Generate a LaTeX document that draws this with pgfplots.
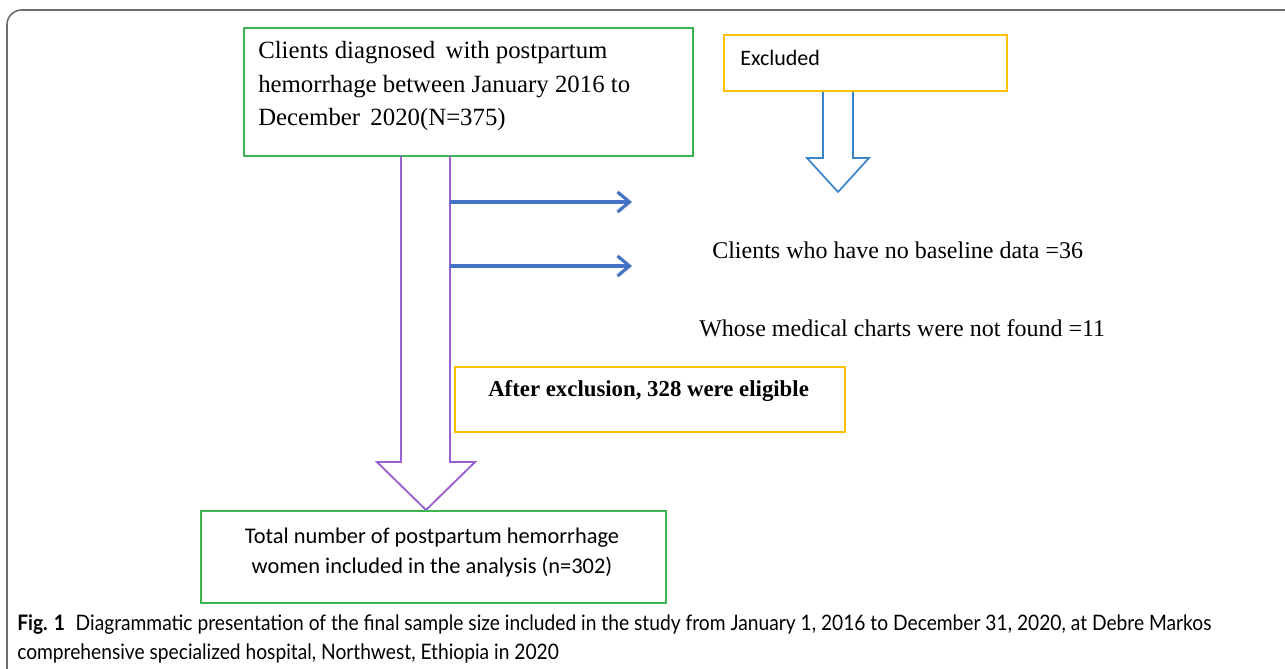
\documentclass[border=0pt]{standalone}
\usepackage{pgfplots}
\pgfplotsset{compat=1.18}
\usepackage{fontspec}
\usetikzlibrary{arrows.meta}
\setmainfont{Liberation Serif}
\newfontfamily\tnr{Liberation Serif}
\newfontfamily\carl{Carlito}
\newfontfamily\capfont[FakeStretch=0.9]{Lato}
\definecolor{boxgreen}{HTML}{3BB54F}
\definecolor{boxyellow}{HTML}{FFC000}
\definecolor{arrblue}{HTML}{4472C4}
\definecolor{outblue}{HTML}{3A85CC}
\definecolor{purp}{HTML}{9B5FCF}
\definecolor{framegray}{HTML}{6E6E6E}
\begin{document}
\begin{tikzpicture}
\begin{axis}[name=ax, scale only axis, width=963.75pt, height=501pt,
  xmin=0, xmax=1285, ymin=0, ymax=668, hide axis, clip=false]
% outer frame
\draw[framegray, line width=1.2pt, rounded corners=11pt] (7,-5) -- (7,658) -- (1295,658);
% top green box
\draw[boxgreen, line width=1.5pt] (244,640) rectangle (693,512);
\node[anchor=base west, inner sep=0pt, font=\tnr\fontsize{18.6pt}{22pt}\selectfont] at (258,609) {Clients diagnosed\, with postpartum};
\node[anchor=base west, inner sep=0pt, font=\tnr\fontsize{18.6pt}{22pt}\selectfont] at (258,575) {hemorrhage between January 2016 to};
\node[anchor=base west, inner sep=0pt, font=\tnr\fontsize{18.6pt}{22pt}\selectfont] at (258,542) {December\, 2020(N=375)};
% excluded box
\draw[boxyellow, line width=1.5pt] (724,633) rectangle (1007,577);
\node[anchor=base west, inner sep=0pt, font=\carl\fontsize{16.5pt}{18pt}\selectfont] at (740,602) {Excluded};
% hollow blue arrow
\draw[outblue, line width=1.3pt, line join=miter] (823,576) -- (823,510) -- (807,510) -- (838,476) -- (869,510) -- (853,510) -- (853,576);
% purple hollow arrow
\draw[purp, line width=1.4pt, line join=miter] (401,512) -- (401,206) -- (377,206) -- (426,158) -- (475,206) -- (450,206) -- (450,512);
% blue arrows
\draw[arrblue, line width=2.6pt, -{Straight Barb[length=9pt,width=15pt,line width=2.4pt]}] (450,466) -- (632,466);
\draw[arrblue, line width=2.6pt, -{Straight Barb[length=9pt,width=15pt,line width=2.4pt]}] (450,402) -- (632,402);
% exclusion texts
\node[anchor=base west, inner sep=0pt, font=\tnr\fontsize{18pt}{22pt}\selectfont] at (712,409) {Clients who have no baseline data =36};
\node[anchor=base west, inner sep=0pt, font=\tnr\fontsize{18pt}{22pt}\selectfont] at (699,331) {Whose medical charts were not found =11};
% eligible box
\draw[boxyellow, line width=1.5pt] (455,301) rectangle (845,236);
\node[anchor=base west, inner sep=0pt, font=\tnr\bfseries\fontsize{17.1pt}{22pt}\selectfont] at (488,272) {After exclusion, 328 were eligible};
% bottom green box
\draw[boxgreen, line width=1.5pt] (201,157) rectangle (666,65);
\node[anchor=base, inner sep=0pt, font=\carl\fontsize{16.8pt}{18pt}\selectfont] at (432,125) {Total number of postpartum hemorrhage};
\node[anchor=base, inner sep=0pt, font=\carl\fontsize{16.8pt}{18pt}\selectfont] at (432,95) {women included in the analysis (n=302)};
% caption
\node[anchor=base west, inner sep=0pt, font=\capfont\fontsize{16pt}{18pt}\selectfont] at (17,38) {\textbf{Fig. 1}\enspace Diagrammatic presentation of the final sample size included in the study from January 1, 2016 to December 31, 2020, at Debre Markos};
\node[anchor=base west, inner sep=0pt, font=\capfont\fontsize{16pt}{18pt}\selectfont] at (17,9) {comprehensive specialized hospital, Northwest, Ethiopia in 2020};
\end{axis}
\pgfresetboundingbox
\path[use as bounding box] (ax.south west) rectangle (ax.north east);
\end{tikzpicture}
\end{document}
